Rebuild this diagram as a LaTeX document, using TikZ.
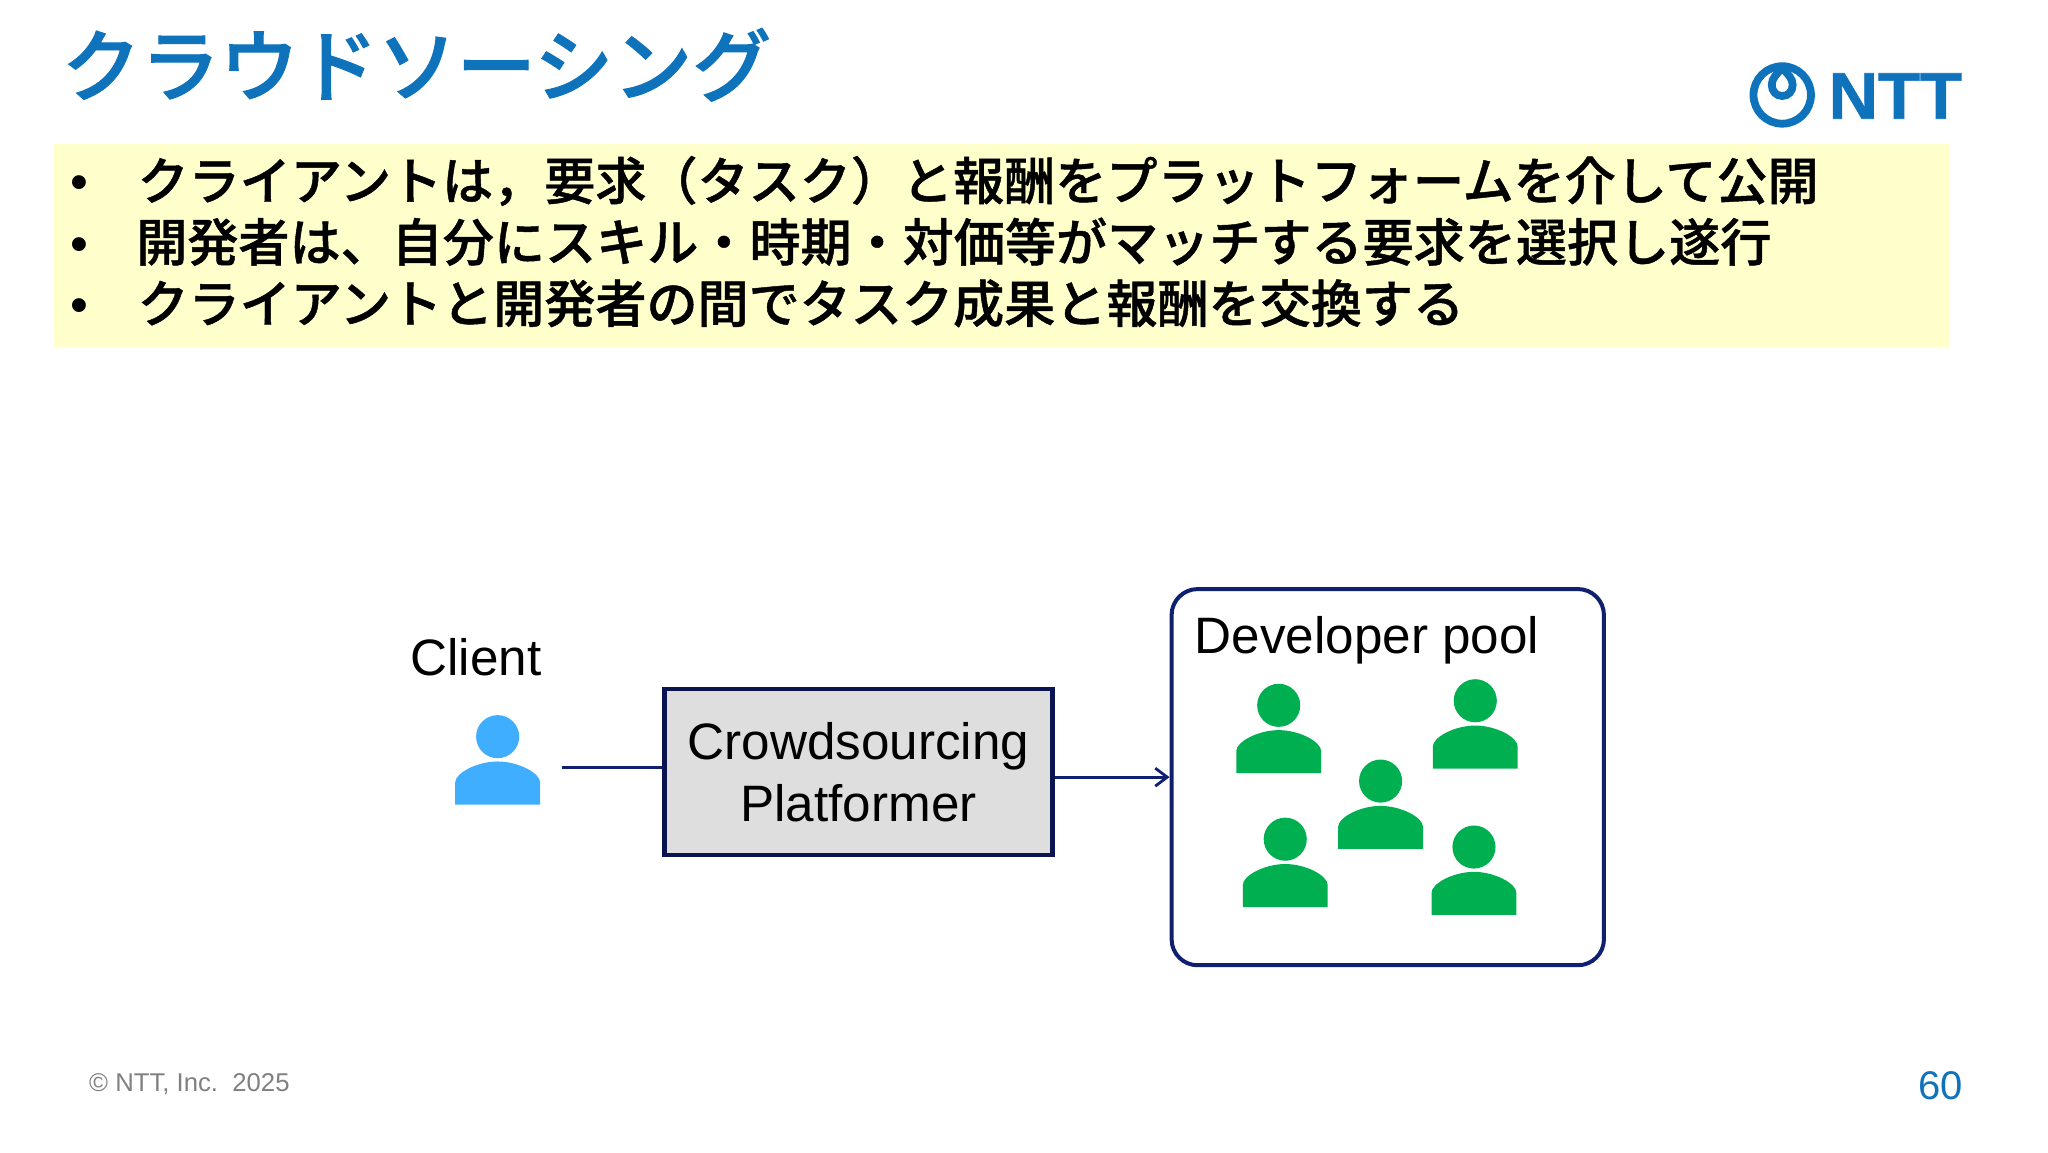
\documentclass[tikz,border=0pt]{standalone}
\usepackage{fontspec}
\setmainfont{Liberation Sans}
\newfontfamily\cjk{Noto Sans CJK JP Medium}[FakeBold=0.9]
\newfontfamily\cjktitle{Noto Sans CJK JP Medium}[FakeBold=1.2]
\newfontfamily\logofont{Liberation Sans Bold}[FakeBold=1.0]
\usetikzlibrary{arrows.meta}
\definecolor{nttblue}{HTML}{0F73BC}
\definecolor{navy}{HTML}{0F2070}
\definecolor{darknavy}{HTML}{0A1450}
\definecolor{pale}{HTML}{FFFFCC}
\definecolor{platgray}{HTML}{DEDEDE}
\definecolor{devgreen}{HTML}{00B050}
\definecolor{clientblue}{HTML}{3FAEFF}
\tikzset{
  person/.pic={
    \fill (0,-52) circle [radius=16.5];
    \fill (-32.5,0) -- (-32.5,-17)
      .. controls (-32.5,-24) and (-16,-33) .. (0,-33)
      .. controls (16,-33) and (32.5,-24) .. (32.5,-17)
      -- (32.5,0) -- cycle;
  },
  label/.style={inner sep=0pt, font=\fontsize{25.6}{30.7}\selectfont},
  titletxt/.style={inner sep=0pt, anchor=base west, text=nttblue, font=\cjktitle\fontsize{39.5}{47}\selectfont},
  bullet/.style={inner sep=0pt, anchor=base, font=\fontsize{25.5}{30}\selectfont},
  item/.style={inner sep=0pt, anchor=base west, font=\cjk\fontsize{25.55}{30}\selectfont},
  link/.style={navy, line width=1.4pt},
}
\begin{document}
\begin{tikzpicture}[x=0.653061pt, y=-0.653061pt]
\useasboundingbox (0,0) rectangle (1568,882);

% title and yellow box
\node[titletxt] (title) at (47,73) {クラウドソーシング};
\fill[pale] (41,110) rectangle (1492,266);
\node[bullet] (b1) at (61,153) {•};
\node[bullet] (b2) at (61,200) {•};
\node[bullet] (b3) at (61,247) {•};
\node[item] (l1) at (105,153) {クライアントは，要求（タスク）と報酬をプラットフォームを介して公開};
\node[item] (l2) at (104,200) {開発者は、自分にスキル・時期・対価等がマッチする要求を選択し遂行};
\node[item] (l3) at (105,247) {クライアントと開発者の間でタスク成果と報酬を交換する};

% logo
\draw[nttblue, line width=3.9pt] (1364.5,72.7) circle [radius=22];
\draw[nttblue, line width=3.9pt] (1364.5,52)
  .. controls (1360,57) and (1356.5,60) .. (1356.5,65)
  .. controls (1356.5,70) and (1360,73.5) .. (1364.5,73.5)
  .. controls (1369,73.5) and (1372.5,70) .. (1372.5,65)
  .. controls (1372.5,60) and (1369,57) .. (1364.5,52);
\node[inner sep=0pt, text=nttblue, font=\logofont\fontsize{33}{33}\selectfont, xscale=1.04] (logo) at (1451,73.5) {NTT};

% client
\node[label, anchor=center] (client) at (364.5,503) {Client};
\pic[fill=clientblue] at (381,616) {person};
\coordinate (clientend) at (430,587.5);

% platform
\node[draw=darknavy, fill=platgray, line width=2.2pt, minimum width=297*0.653061pt, minimum height=127*0.653061pt,
  inner sep=0pt, align=center, label] (platform) at (657.3,591.2) {Crowdsourcing\\Platformer};

% developer pool
\node[draw=navy, rounded corners=13pt, line width=2pt, minimum width=331*0.653061pt, minimum height=288*0.653061pt,
  inner sep=0pt] (pool) at (1062.5,595) {};
\node[label, anchor=base west] (pooltxt) at (914.5,500) {Developer pool};
\pic[fill=devgreen] at (979,592) {person};
\pic[fill=devgreen] at (1129.5,588.5) {person};
\pic[fill=devgreen] at (1057,650) {person};
\pic[fill=devgreen] at (984,694.5) {person};
\pic[fill=devgreen] at (1128.5,700.5) {person};

% connectors
\draw[link] (clientend) -- (platform.west |- clientend);
\draw[link, -{Straight Barb[length=6pt,width=9pt]}] (platform.east |- pool.west) -- (pool.west);

% footer
\node[inner sep=0pt, anchor=west, text=gray, font=\fontsize{12.85}{15}\selectfont] (copy) at (68,830) {© NTT, Inc.\ \ 2025};
\node[inner sep=0pt, anchor=east, text=nttblue, font=\fontsize{20}{24}\selectfont] (page) at (1503,831) {60};
\end{tikzpicture}
\end{document}
